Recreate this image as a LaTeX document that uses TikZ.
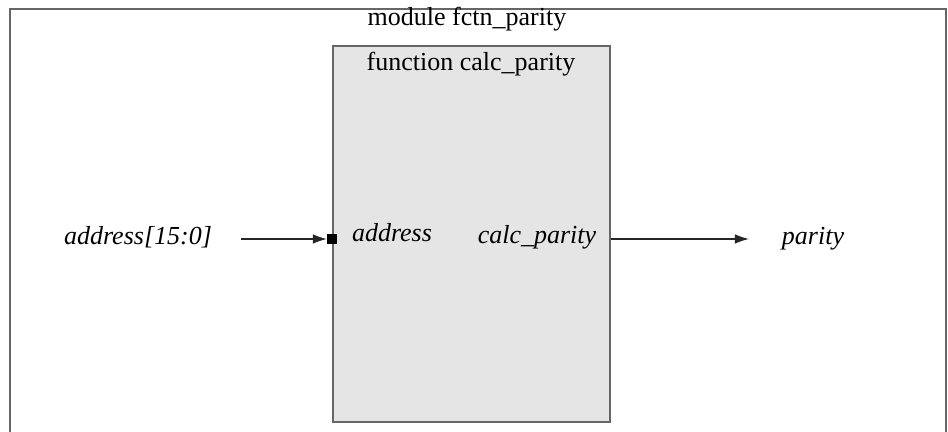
\documentclass[tikz,border=0pt]{standalone}
\usepackage{fontspec}
\setmainfont{Liberation Serif}
\usepackage{tikz}
\usetikzlibrary{positioning,arrows.meta,calc}

\begin{document}
\begin{tikzpicture}[x=0.02cm,y=-0.02cm,
  lbl/.style={font=\fontsize{14.8}{17}\selectfont\itshape,inner sep=1pt},
  ttl/.style={font=\fontsize{14.8}{17}\selectfont,inner sep=1pt},
  wire/.style={line width=0.8pt,black!85,-{Latex[length=8pt,width=5.5pt]}}]
  \useasboundingbox (0,0) rectangle (948,432);
  \clip (0,0) rectangle (948,432);
  % module frame
  \draw[black!60,line width=1.1pt](10,450)--(10,9)--(946,9)--(946,450);
  \node[ttl] (modname) at (467,19){module fctn\_parity};
  % function block
  \node[draw=black!60,line width=1.1pt,fill=black!10,minimum width=277*0.02cm,
        minimum height=376*0.02cm,inner sep=0pt] (fn) at (471.5,234){};
  \node[ttl] (fnname) at (471,64){function calc\_parity};
  \node[lbl] (inport) at (392,233){address};
  \node[lbl] (outport) at (537,237){calc\_parity};
  % ports and wires
  \node[fill=black,minimum size=5.5pt,inner sep=0pt] (sq) at (fn.west|-0,239){};
  \node[lbl] (addr) at (138,237){address[15:0]};
  \node[lbl] (par) at (813,239){parity};
  \coordinate (src) at (241,239);
  \coordinate (out) at (fn.east|-0,239);
  \coordinate (dst) at (749,239);
  \draw[wire](src)--(sq.west);
  \draw[wire](out)--(dst);
\end{tikzpicture}
\end{document}
